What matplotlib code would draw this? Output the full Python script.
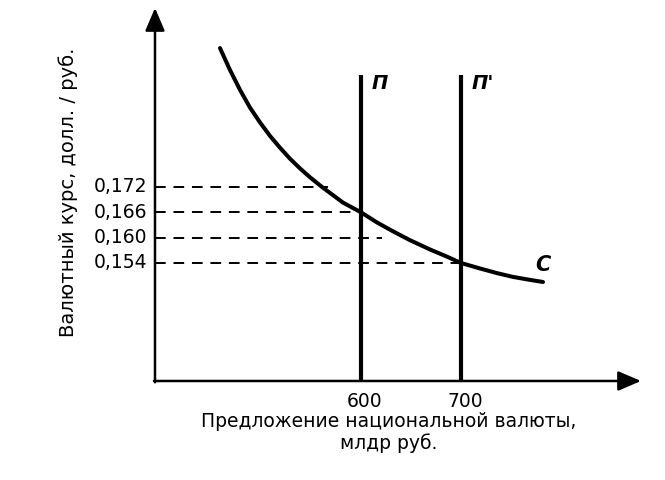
import matplotlib
matplotlib.use('Agg')
import matplotlib.pyplot as plt

plt.rcParams['font.family'] = ['DejaVu Sans']

# demand curve for the national currency
curve_x = [459, 469, 479, 489, 499, 509, 519, 529, 539, 549, 561, 582,
           600, 616, 632, 649, 669, 686, 700, 719, 736, 752, 769, 782]
curve_y = [0.2049, 0.1997, 0.1950, 0.1908, 0.1873, 0.1841, 0.1813, 0.1787,
           0.1764, 0.1743, 0.1720, 0.1683, 0.1660, 0.1636, 0.1615, 0.1594,
           0.1572, 0.1555, 0.1540, 0.1527, 0.1516, 0.1507, 0.1500, 0.1495]

# supply lines
supply_x = [600, 700]
supply_labels = ['П', "П'"]
supply_top = 0.1985

# exchange-rate levels and where their dashed guides stop
rate_levels = [0.172, 0.166, 0.160, 0.154]
rate_labels = ['0,172', '0,166', '0,160', '0,154']
rate_ends = [567, 600, 621, 700]

x_ticks = [600, 700]
x_tick_labels = ['600', '700']

origin_x, origin_y = 394, 0.12605
x_max, y_max = 880, 0.2144

fig = plt.figure(figsize=(6.65, 4.8), dpi=100)
ax = fig.add_axes([0, 0, 1, 1])
ax.set_xlim(239, 904)
ax.set_ylim(0.10260, 0.21629)
ax.axis('off')

# axes with arrows
arrow = dict(arrowstyle='-|>,head_length=1.4,head_width=0.6',
             color='black', lw=1.8, shrinkA=0, shrinkB=0)
ax.annotate('', xy=(x_max, origin_y), xytext=(origin_x - 1, origin_y),
            arrowprops=arrow)
ax.annotate('', xy=(origin_x, y_max), xytext=(origin_x, origin_y - 0.0003),
            arrowprops=arrow)

# dashed guides and y labels
for lvl, lab, xe in zip(rate_levels, rate_labels, rate_ends):
    ax.plot([origin_x, xe], [lvl, lvl], color='black', lw=1.4,
            dashes=(5.5, 4))
    ax.text(386, lvl, lab, ha='right', va='center', fontsize=13.5)

# supply lines
for xs, lab in zip(supply_x, supply_labels):
    ax.plot([xs, xs], [origin_y, supply_top], color='black', lw=3.0,
            solid_capstyle='butt')
    ax.text(xs + 11, 0.1966, lab, ha='left', va='center',
            fontsize=14, fontstyle='italic', fontweight='bold')

# demand curve
ax.plot(curve_x, curve_y, color='black', lw=2.9, solid_joinstyle='round',
        solid_capstyle='round')
ax.text(774, 0.1535, 'С', ha='left', va='center',
        fontsize=15, fontstyle='italic', fontweight='bold')

for xt, lab in zip(x_ticks, x_tick_labels):
    ax.text(xt + 4, 0.1213, lab, ha='center', va='center', fontsize=13.5)

ax.text(628, 0.1188, 'Предложение национальной валюты,\nмлдр руб.',
        ha='center', va='top', fontsize=13.5, linespacing=1.15)

ax.text(307, 0.1708, 'Валютный курс, долл. / руб.', rotation=90,
        ha='center', va='center', fontsize=14)

fig.savefig('out.png', dpi=100)
